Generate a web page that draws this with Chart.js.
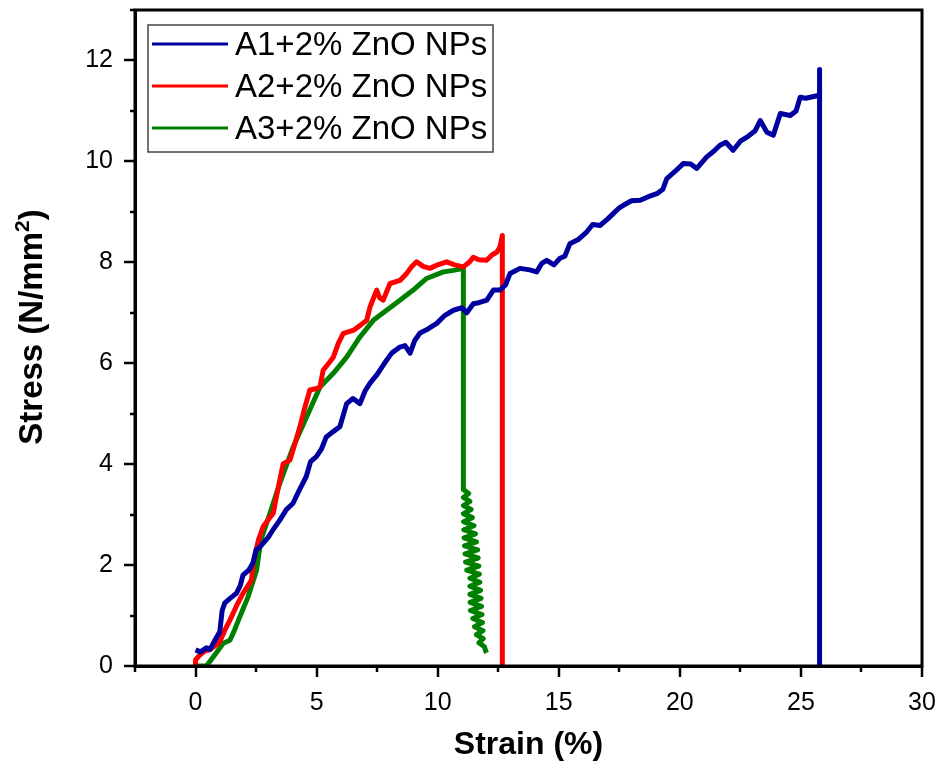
<!DOCTYPE html>
<html>
<head>
<meta charset="utf-8">
<script src="https://cdn.jsdelivr.net/npm/chart.js@4.4.1/dist/chart.umd.min.js"></script>
<style>
	html, body { margin: 0; padding: 0; background: #fff; }
	#wrap { width: 940px; height: 768px; }
</style>
</head>
<body>
<div id="wrap"><canvas id="grafico" width="940" height="768"></canvas></div>
<script>
/* Datos: deformación (%) y esfuerzo (N/mm²) */
const strainA1 = [0, 0.2, 0.45, 0.6, 0.8, 1.0, 1.1, 1.21, 1.45, 1.69, 1.85, 1.96, 2.2, 2.37, 2.5, 2.66, 3.0, 3.2, 3.48, 3.75,
	4.02, 4.3, 4.57, 4.75, 4.99, 5.2, 5.4, 5.7, 5.96, 6.24, 6.5, 6.79, 7.0, 7.2, 7.5, 7.89, 8.1, 8.44, 8.65, 8.86,
	9.05, 9.27, 9.6, 9.96, 10.3, 10.65, 11.0, 11.2, 11.47, 11.7, 12.03, 12.3, 12.57, 12.8, 12.99, 13.4, 13.8, 14.09, 14.3, 14.5,
	14.8, 15.05, 15.25, 15.46, 15.8, 16.15, 16.4, 16.7, 17.0, 17.26, 17.5, 17.67, 18.0, 18.36, 18.7, 19.05, 19.3, 19.46, 19.8, 20.15,
	20.45, 20.7, 21.11, 21.4, 21.66, 21.9, 22.2, 22.5, 22.77, 23.1, 23.32, 23.45, 23.59, 23.86, 24.15, 24.56, 24.8, 24.97, 25.2, 25.39,
	25.66, 25.77, 25.77, 25.77];
const stressA1 = [0.32, 0.28, 0.36, 0.33, 0.51, 0.68, 1.1, 1.25, 1.35, 1.44, 1.6, 1.8, 1.9, 2.04, 2.3, 2.36, 2.55, 2.7, 2.89, 3.1,
	3.22, 3.5, 3.75, 4.05, 4.15, 4.3, 4.54, 4.65, 4.74, 5.2, 5.3, 5.2, 5.45, 5.6, 5.78, 6.06, 6.2, 6.32, 6.35, 6.2,
	6.45, 6.6, 6.68, 6.79, 6.95, 7.05, 7.1, 7.0, 7.18, 7.2, 7.25, 7.45, 7.45, 7.55, 7.78, 7.88, 7.85, 7.81, 7.98, 8.04,
	7.95, 8.08, 8.12, 8.37, 8.45, 8.6, 8.75, 8.73, 8.85, 8.97, 9.08, 9.13, 9.22, 9.23, 9.3, 9.36, 9.45, 9.66, 9.8, 9.96,
	9.95, 9.86, 10.09, 10.2, 10.32, 10.38, 10.22, 10.4, 10.48, 10.6, 10.81, 10.7, 10.58, 10.52, 10.95, 10.91, 11.0, 11.27, 11.25, 11.27,
	11.3, 11.3, 11.82, 0];

const strainA2 = [0, 0, 0.18, 0.4, 0.59, 0.8, 1.0, 1.2, 1.42, 1.7, 1.96, 2.31, 2.38, 2.6, 2.79, 3.0, 3.21, 3.4, 3.62, 3.9,
	4.1, 4.31, 4.5, 4.72, 5.0, 5.14, 5.27, 5.5, 5.69, 5.9, 6.1, 6.51, 6.8, 7.07, 7.2, 7.48, 7.6, 7.75, 8.03, 8.44,
	8.72, 8.9, 9.13, 9.4, 9.68, 10.0, 10.37, 10.7, 11.06, 11.3, 11.47, 11.7, 12.02, 12.25, 12.44, 12.57, 12.67, 12.67];
const stressA2 = [0, 0.12, 0.22, 0.3, 0.32, 0.4, 0.48, 0.7, 0.91, 1.2, 1.44, 1.7, 2.04, 2.5, 2.76, 2.9, 3.03, 3.5, 4.01, 4.08,
	4.4, 4.74, 5.1, 5.47, 5.5, 5.53, 5.86, 6.0, 6.12, 6.4, 6.59, 6.65, 6.75, 6.85, 7.11, 7.45, 7.3, 7.25, 7.58, 7.64,
	7.78, 7.9, 8.01, 7.92, 7.88, 7.95, 8.01, 7.95, 7.91, 8.0, 8.1, 8.05, 8.04, 8.15, 8.2, 8.3, 8.53, 0];

const strainA3 = [0, 0.45, 0.73, 0.95, 1.14, 1.42, 1.6, 1.83, 2.17, 2.52, 2.7, 3.07, 3.48, 4.03, 4.59, 5.14, 5.69, 6.24, 6.79, 7.34,
	7.89, 8.44, 8.99, 9.54, 10.23, 10.65, 11.06,
	11.06, 11.28, 11.06, 11.33, 11.06, 11.38, 11.06, 11.43, 11.07, 11.5, 11.08, 11.56, 11.09, 11.6, 11.11, 11.65, 11.13, 11.67, 11.15, 11.7,
	11.2, 11.72, 11.33, 11.74, 11.33, 11.77, 11.33, 11.79, 11.34, 11.81, 11.35, 11.83, 11.45, 11.85, 11.52, 11.87, 11.6, 11.88, 11.7, 11.93,
	11.98, 12.02];
const stressA3 = [0, 0, 0.18, 0.32, 0.45, 0.51, 0.7, 0.98, 1.37, 1.9, 2.5, 3.02, 3.62, 4.34, 4.94, 5.53, 5.8, 6.12, 6.52, 6.85,
	7.05, 7.25, 7.45, 7.68, 7.81, 7.84, 7.88,
	3.5, 3.42, 3.34, 3.26, 3.18, 3.1, 3.02, 2.94, 2.86, 2.78, 2.7, 2.62, 2.54, 2.46, 2.38, 2.3, 2.22, 2.14, 2.06, 1.98,
	1.9, 1.82, 1.74, 1.66, 1.58, 1.5, 1.42, 1.34, 1.26, 1.18, 1.1, 1.02, 0.94, 0.86, 0.78, 0.7, 0.62, 0.54, 0.46, 0.38,
	0.3, 0.26];

const etiquetas = ["A1+2% ZnO NPs", "A2+2% ZnO NPs", "A3+2% ZnO NPs"];
const xTicks = [0, 5, 10, 15, 20, 25, 30];
const yTicks = [0, 2, 4, 6, 8, 10, 12];
const tituloX = "Strain (%)";
const tituloY = ["Stress (N/mm", "2", ")"];

function puntos(xs, ys) {
	return xs.map((x, i) => ({ x: x, y: ys[i] }));
}

/* Marco, marcas de eje (mayores y menores), título Y y leyenda con recuadro */
const estiloOrigin = {
	id: "estiloOrigin",
	afterDraw(chart) {
		const ctx = chart.ctx;
		const a = chart.chartArea;
		const sx = chart.scales.x;
		const sy = chart.scales.y;
		ctx.save();
		ctx.strokeStyle = "#000";
		ctx.lineWidth = 3;
		ctx.strokeRect(a.left, a.top, a.right - a.left, a.bottom - a.top);

		ctx.lineWidth = 2.5;
		for (let v = -2.5; v <= 30; v += 2.5) {
			const px = Math.round(sx.getPixelForValue(v));
			const len = v % 5 == 0 ? 11 : 6;
			ctx.beginPath();
			ctx.moveTo(px, a.bottom);
			ctx.lineTo(px, a.bottom + len);
			ctx.stroke();
		}
		for (let v = 0; v <= 13; v += 1) {
			const py = Math.round(sy.getPixelForValue(v));
			const len = v % 2 == 0 ? 11 : 5;
			ctx.beginPath();
			ctx.moveTo(a.left, py);
			ctx.lineTo(a.left - len, py);
			ctx.stroke();
		}

		// título del eje Y con superíndice
		ctx.save();
		ctx.translate(31, 327);
		ctx.rotate(-Math.PI / 2);
		ctx.fillStyle = "#000";
		ctx.textBaseline = "middle";
		const fGrande = "bold 33px Arial, 'Liberation Sans'";
		const fChica = "bold 21px Arial, 'Liberation Sans'";
		ctx.font = fGrande;
		const w0 = ctx.measureText(tituloY[0]).width;
		const w2 = ctx.measureText(tituloY[2]).width;
		ctx.font = fChica;
		const w1 = ctx.measureText(tituloY[1]).width;
		let xx = -(w0 + w1 + w2) / 2;
		ctx.font = fGrande;
		ctx.fillText(tituloY[0], xx, 2);
		xx += w0;
		ctx.font = fChica;
		ctx.fillText(tituloY[1], xx, -8);
		xx += w1;
		ctx.font = fGrande;
		ctx.fillText(tituloY[2], xx, 2);
		ctx.restore();

		// leyenda
		ctx.lineWidth = 1.5;
		ctx.strokeStyle = "#444";
		ctx.strokeRect(148, 25, 345, 127);
		ctx.font = "33px Arial, 'Liberation Sans'";
		ctx.textBaseline = "middle";
		ctx.fillStyle = "#000";
		chart.data.datasets.forEach((ds, i) => {
			const y = 44 + i * 42;
			ctx.strokeStyle = ds.borderColor;
			ctx.lineWidth = 3;
			ctx.beginPath();
			ctx.moveTo(152, y);
			ctx.lineTo(228, y);
			ctx.stroke();
			ctx.fillText(ds.label, 235, y + 2);
		});
		ctx.restore();
	},
};

const plotRef = document.getElementById("grafico");

let config = {
	type: "line",
	data: {
		datasets: [
			{ label: etiquetas[0], data: puntos(strainA1, stressA1), borderColor: "rgb(0, 0, 160)" },
			{ label: etiquetas[1], data: puntos(strainA2, stressA2), borderColor: "rgb(255, 0, 0)" },
			{ label: etiquetas[2], data: puntos(strainA3, stressA3), borderColor: "rgb(0, 128, 0)" },
		],
	},
	options: {
		responsive: false,
		animation: false,
		layout: { padding: { top: 10, right: 18, left: 0, bottom: 0 } },
		elements: {
			line: { borderWidth: 5, tension: 0, borderJoinStyle: "round" },
			point: { radius: 0 },
		},
		plugins: { legend: { display: false }, tooltip: { enabled: false } },
		scales: {
			x: {
				type: "linear",
				min: -2.5,
				max: 30,
				afterBuildTicks: (s) => { s.ticks = xTicks.map((v) => ({ value: v })); },
				afterFit: (s) => {
					s.height = 102;
					s.paddingLeft = 0;
					s.paddingRight = 0;
				},
				grid: { display: false, drawTicks: false },
				border: { display: true, color: "#000", width: 3 },
				ticks: { color: "#000", padding: 22, maxRotation: 0, font: { family: "Arial, 'Liberation Sans'", size: 25 } },
				title: { display: true, text: tituloX, color: "#000", padding: { top: 0, bottom: 4 }, font: { family: "Arial, 'Liberation Sans'", size: 32, weight: "bold" } },
			},
			y: {
				type: "linear",
				min: 0,
				max: 13,
				afterBuildTicks: (s) => { s.ticks = yTicks.map((v) => ({ value: v })); },
				afterFit: (s) => {
					s.width = 135;
					s.paddingTop = 0;
					s.paddingBottom = 0;
				},
				grid: { display: false, drawTicks: false },
				border: { display: true, color: "#000", width: 3 },
				ticks: { color: "#000", padding: 22, font: { family: "Arial, 'Liberation Sans'", size: 25 } },
				title: { display: false },
			},
		},
	},
	plugins: [estiloOrigin],
};

const chart = new Chart(plotRef, config);
</script>
</body>
</html>
